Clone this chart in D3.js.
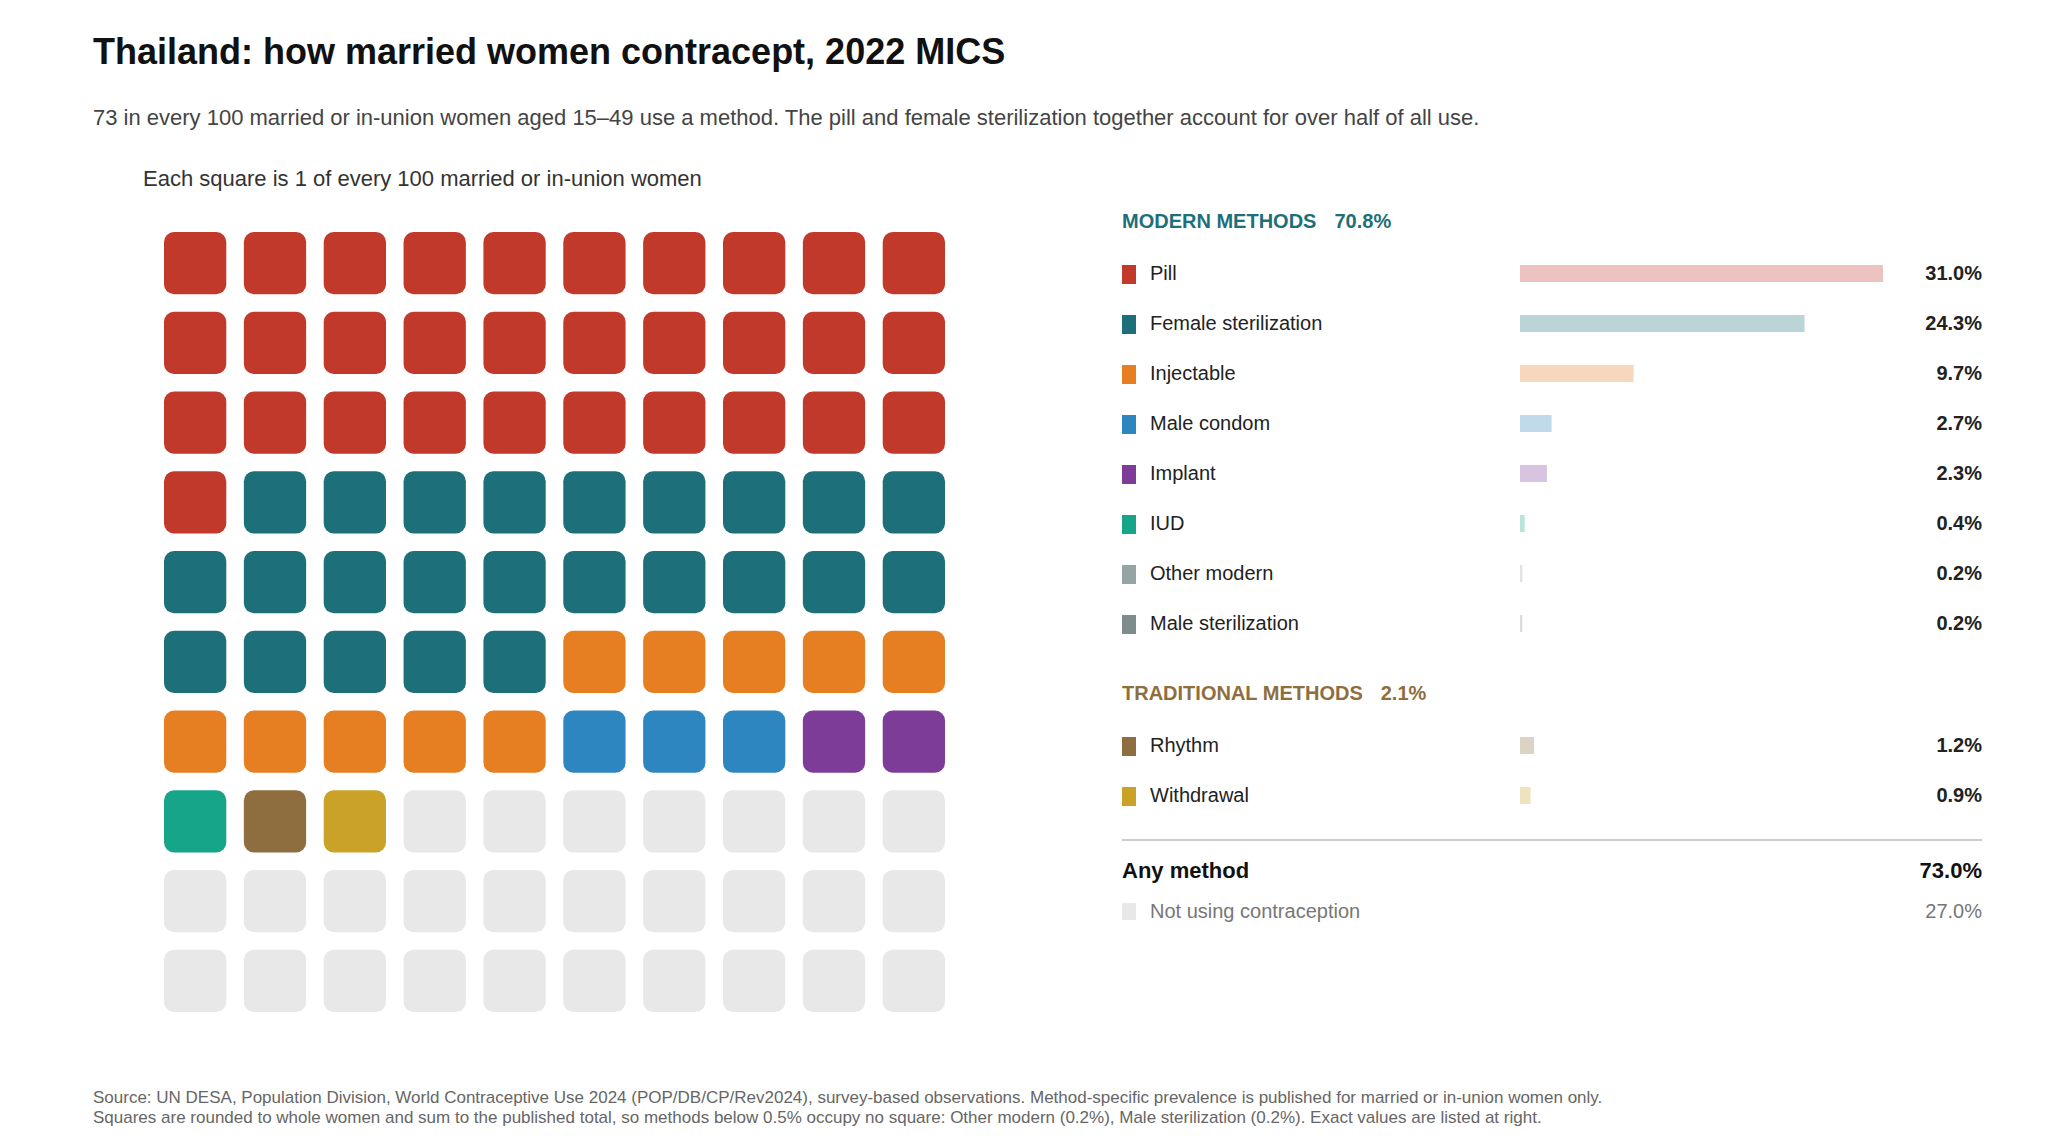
<!DOCTYPE html>
<html><head><meta charset="utf-8">
<script src="https://cdn.jsdelivr.net/npm/d3@7"></script>
<style>body{margin:0;background:#fff}svg{font-family:"Liberation Sans",Arial,sans-serif}</style>
</head><body><svg id="c" width="2048" height="1144"></svg>
<script>
const modernMethods = ["Pill","Female sterilization","Injectable","Male condom","Implant","IUD","Other modern","Male sterilization"];
const modernValues = [31.0,24.3,9.7,2.7,2.3,0.4,0.2,0.2];
const modernSquares = [31,24,10,3,2,1,0,0];
const modernColors = ["#c0392b","#1d6f7a","#e67e22","#2e86c1","#7d3c98","#17a589","#95a5a6","#7f8c8d"];
const tradMethods = ["Rhythm","Withdrawal"];
const tradValues = [1.2,0.9];
const tradSquares = [1,1];
const tradColors = ["#8e6e3e","#c9a227"];
const modernTotal = 70.8, tradTotal = 2.1, anyMethod = 73.0, notUsing = 27.0;

const svg = d3.select("#c");
svg.append("text").attr("x",93).attr("y",64).attr("font-size",36).attr("font-weight","bold").attr("fill","#111")
  .text("Thailand: how married women contracept, 2022 MICS");
svg.append("text").attr("x",93).attr("y",125).attr("font-size",22).attr("fill","#444")
  .text("73 in every 100 married or in-union women aged 15–49 use a method. The pill and female sterilization together account for over half of all use.");
svg.append("text").attr("x",143).attr("y",186).attr("font-size",22).attr("fill","#333")
  .text("Each square is 1 of every 100 married or in-union women");

// waffle
const cells = [];
modernSquares.forEach((n,i)=>{for(let k=0;k<n;k++)cells.push(modernColors[i]);});
tradSquares.forEach((n,i)=>{for(let k=0;k<n;k++)cells.push(tradColors[i]);});
while(cells.length<100)cells.push("#e8e8e8");
const gx = d3.scaleBand().domain(d3.range(10)).range([164,928+17]).paddingInner(0.22).paddingOuter(0);
const gy = d3.scaleBand().domain(d3.range(10)).range([232,995+17]).paddingInner(0.22).paddingOuter(0);
svg.append("g").selectAll("rect").data(cells).join("rect")
  .attr("x",(d,i)=>gx(i%10)).attr("y",(d,i)=>gy(Math.floor(i/10)))
  .attr("width",gx.bandwidth()).attr("height",gy.bandwidth()).attr("rx",10).attr("fill",d=>d);

// right panel
const L = 1122, R = 1982;
const bx = d3.scaleLinear().domain([0,31]).range([1520,1883]);
function header(y,txt,val,col){
  const t = svg.append("text").attr("x",L).attr("y",y).attr("font-size",20).attr("font-weight","bold").attr("fill",col);
  t.append("tspan").text(txt);
  t.append("tspan").attr("dx",18).text(val.toFixed(1)+"%");
}
function rows(names,vals,cols,y0){
  names.forEach((n,i)=>{
    const y = y0 + i*50;
    svg.append("rect").attr("x",L).attr("y",y-7).attr("width",14).attr("height",19).attr("fill",cols[i]);
    svg.append("text").attr("x",1150).attr("y",y+8).attr("font-size",20).attr("fill","#222").text(n);
    svg.append("rect").attr("x",bx(0)).attr("y",y-7).attr("width",Math.max(1.5,bx(vals[i])-bx(0))).attr("height",17)
      .attr("fill",cols[i]).attr("opacity",0.3);
    svg.append("text").attr("x",R).attr("y",y+8).attr("text-anchor","end").attr("font-size",20).attr("font-weight","bold").attr("fill","#222")
      .text(vals[i].toFixed(1)+"%");
  });
}
header(228,"MODERN METHODS",modernTotal,"#1d6f7a");
rows(modernMethods,modernValues,modernColors,272);
header(700,"TRADITIONAL METHODS",tradTotal,"#8e6e3e");
rows(tradMethods,tradValues,tradColors,744);
svg.append("line").attr("x1",L).attr("x2",R).attr("y1",840).attr("y2",840).attr("stroke","#ccc").attr("stroke-width",2);
svg.append("text").attr("x",L).attr("y",878).attr("font-size",22).attr("font-weight","bold").attr("fill","#111").text("Any method");
svg.append("text").attr("x",R).attr("y",878).attr("text-anchor","end").attr("font-size",22).attr("font-weight","bold").attr("fill","#111").text(anyMethod.toFixed(1)+"%");
svg.append("rect").attr("x",L).attr("y",903).attr("width",14).attr("height",17).attr("fill","#e8e8e8");
svg.append("text").attr("x",1150).attr("y",918).attr("font-size",20).attr("fill","#777").text("Not using contraception");
svg.append("text").attr("x",R).attr("y",918).attr("text-anchor","end").attr("font-size",20).attr("fill","#777").text(notUsing.toFixed(1)+"%");

svg.append("text").attr("x",93).attr("y",1103).attr("font-size",17).attr("fill","#666")
  .text("Source: UN DESA, Population Division, World Contraceptive Use 2024 (POP/DB/CP/Rev2024), survey-based observations. Method-specific prevalence is published for married or in-union women only.");
svg.append("text").attr("x",93).attr("y",1123).attr("font-size",17).attr("fill","#666")
  .text("Squares are rounded to whole women and sum to the published total, so methods below 0.5% occupy no square: Other modern (0.2%), Male sterilization (0.2%). Exact values are listed at right.");
</script></body></html>
